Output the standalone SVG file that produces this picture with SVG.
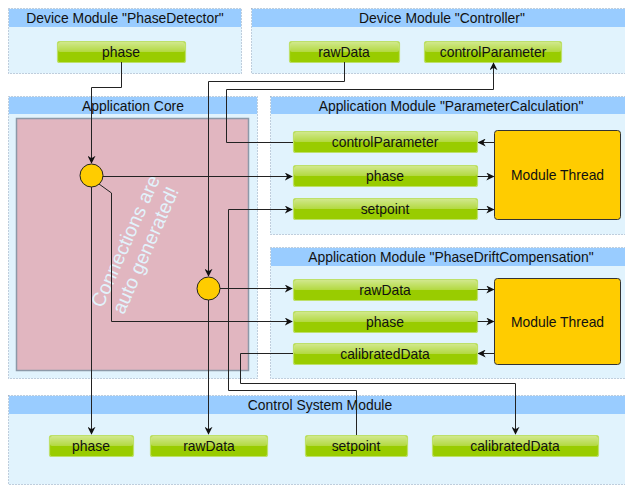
<svg xmlns="http://www.w3.org/2000/svg" width="625" height="487" viewBox="0 0 625 487">
<defs>
<linearGradient id="glass" x1="0" y1="0" x2="0" y2="1">
<stop offset="0" stop-color="#ffffff" stop-opacity="0.55"/>
<stop offset="1" stop-color="#ffffff" stop-opacity="0.25"/>
</linearGradient>
<marker id="arr" viewBox="0 0 10 10" refX="9" refY="5" markerWidth="8" markerHeight="8" markerUnits="userSpaceOnUse" orient="auto">
<path d="M0,0 L10,5 L0,10 L3,5 Z" fill="#111"/>
</marker>
<style>
.mod{fill:#e1f3fd;stroke:#8fa3bd;stroke-width:1;stroke-dasharray:1,2}
.hdr{fill:#99ccff}
.t{font-family:"Liberation Sans",Arial,sans-serif;font-size:13.9px;fill:#111;text-anchor:middle}
.btn{fill:#99cc00;stroke:#bde06a;stroke-width:1.2}
.gl{fill:url(#glass)}
.thr{fill:#ffcc00;stroke:#333;stroke-width:1}
.node{fill:#ffcc00;stroke:#222;stroke-width:1}
.c{fill:none;stroke:#222;stroke-width:1}
.ca{fill:none;stroke:#222;stroke-width:1;marker-end:url(#arr)}
</style>
</defs>

<!-- Device Module PhaseDetector -->
<g id="dm-phasedetector">
<rect class="mod" x="8.5" y="8.5" width="233" height="65"/>
<rect class="hdr" x="9" y="9" width="232" height="18"/>
<text class="t" x="125" y="22.5">Device Module "PhaseDetector"</text>
</g>
<g id="dm-pd-phase">
<rect class="btn" x="57.5" y="41.5" width="128" height="21" rx="2"/>
<rect class="gl" x="58" y="42" width="127" height="10" rx="2"/>
<text class="t" x="121" y="56.8">phase</text>
</g>

<!-- Device Module Controller -->
<g id="dm-controller">
<rect class="mod" x="251.5" y="8.5" width="381" height="65"/>
<rect class="hdr" x="252" y="9" width="380" height="18"/>
<text class="t" x="442" y="22.5">Device Module "Controller"</text>
</g>
<g id="dm-c-rawdata">
<rect class="btn" x="289.5" y="41.5" width="110" height="21" rx="2"/>
<rect class="gl" x="290" y="42" width="109" height="10" rx="2"/>
<text class="t" x="344" y="56.8">rawData</text>
</g>
<g id="dm-c-controlparameter">
<rect class="btn" x="424.5" y="41.5" width="137" height="21" rx="2"/>
<rect class="gl" x="425" y="42" width="136" height="10" rx="2"/>
<text class="t" x="493" y="56.8">controlParameter</text>
</g>

<!-- Application Core -->
<g id="app-core">
<rect class="mod" x="8.5" y="96.5" width="249" height="282"/>
<rect class="hdr" x="9" y="97" width="248" height="17"/>
<text class="t" x="133" y="110.5">Application Core</text>
<rect x="16.5" y="118.5" width="232" height="252" fill="#e1b6c0" stroke="#8d99a8" stroke-width="1.5"/>
<text transform="translate(136,246) rotate(-66)" font-family="'Liberation Sans',Arial,sans-serif" font-size="19.5" fill="#e2f3fc" text-anchor="middle"><tspan x="0" y="-5">Connections are</tspan><tspan x="0" y="17">auto generated!</tspan></text>
</g>

<!-- Application Module ParameterCalculation -->
<g id="am-parametercalculation">
<rect class="mod" x="270.5" y="96.5" width="362" height="138"/>
<rect class="hdr" x="271" y="97" width="361" height="17"/>
<text class="t" x="451" y="110.5">Application Module "ParameterCalculation"</text>
</g>
<g id="pc-controlparameter">
<rect class="btn" x="293.5" y="131.5" width="184" height="21" rx="2"/>
<rect class="gl" x="294" y="132" width="183" height="10" rx="2"/>
<text class="t" x="385" y="146.8">controlParameter</text>
</g>
<g id="pc-phase">
<rect class="btn" x="293.5" y="165.5" width="184" height="21" rx="2"/>
<rect class="gl" x="294" y="166" width="183" height="10" rx="2"/>
<text class="t" x="385" y="180.8">phase</text>
</g>
<g id="pc-setpoint">
<rect class="btn" x="293.5" y="198.5" width="184" height="21" rx="2"/>
<rect class="gl" x="294" y="199" width="183" height="10" rx="2"/>
<text class="t" x="385" y="213.8">setpoint</text>
</g>
<g id="pc-thread">
<rect class="thr" x="494.5" y="130.5" width="126" height="89" rx="3"/>
<text class="t" x="557.5" y="180">Module Thread</text>
</g>

<!-- Application Module PhaseDriftCompensation -->
<g id="am-phasedriftcompensation">
<rect class="mod" x="270.5" y="247.5" width="362" height="131"/>
<rect class="hdr" x="271" y="248" width="361" height="18"/>
<text class="t" x="451" y="262">Application Module "PhaseDriftCompensation"</text>
</g>
<g id="pdc-rawdata">
<rect class="btn" x="293.5" y="279.5" width="184" height="21" rx="2"/>
<rect class="gl" x="294" y="280" width="183" height="10" rx="2"/>
<text class="t" x="385" y="294.8">rawData</text>
</g>
<g id="pdc-phase">
<rect class="btn" x="293.5" y="311.5" width="184" height="21" rx="2"/>
<rect class="gl" x="294" y="312" width="183" height="10" rx="2"/>
<text class="t" x="385" y="326.8">phase</text>
</g>
<g id="pdc-calibrateddata">
<rect class="btn" x="293.5" y="343.5" width="184" height="21" rx="2"/>
<rect class="gl" x="294" y="344" width="183" height="10" rx="2"/>
<text class="t" x="385" y="358.8">calibratedData</text>
</g>
<g id="pdc-thread">
<rect class="thr" x="494.5" y="278.5" width="126" height="86" rx="3"/>
<text class="t" x="557.5" y="326.5">Module Thread</text>
</g>

<!-- Control System Module -->
<g id="control-system">
<rect class="mod" x="8.5" y="395.5" width="624" height="89"/>
<rect class="hdr" x="9" y="396" width="623" height="18"/>
<text class="t" x="320" y="409.5">Control System Module</text>
</g>
<g id="cs-phase">
<rect class="btn" x="49.5" y="435.5" width="84" height="21" rx="2"/>
<rect class="gl" x="50" y="436" width="83" height="10" rx="2"/>
<text class="t" x="91" y="450.8">phase</text>
</g>
<g id="cs-rawdata">
<rect class="btn" x="150.5" y="435.5" width="117" height="21" rx="2"/>
<rect class="gl" x="151" y="436" width="116" height="10" rx="2"/>
<text class="t" x="209" y="450.8">rawData</text>
</g>
<g id="cs-setpoint">
<rect class="btn" x="305.5" y="435.5" width="102" height="21" rx="2"/>
<rect class="gl" x="306" y="436" width="101" height="10" rx="2"/>
<text class="t" x="356" y="450.8">setpoint</text>
</g>
<g id="cs-calibrateddata">
<rect class="btn" x="432.5" y="435.5" width="166" height="21" rx="2"/>
<rect class="gl" x="433" y="436" width="165" height="10" rx="2"/>
<text class="t" x="515" y="450.8">calibratedData</text>
</g>

<!-- connectors -->
<g id="connectors">
<path class="ca" d="M121.5,62 V87.5 H91.5 V163"/>
<path class="ca" d="M344.5,62 V81.5 H208.5 V276"/>
<path class="ca" d="M293,142.5 H226.5 V89.5 H493.5 V63"/>
<path class="ca" d="M102.5,176.5 H292"/>
<path class="ca" d="M99,184 L111.5,193 V321.5 H292"/>
<path class="ca" d="M91.5,187 V434"/>
<path class="ca" d="M220,288.5 H292"/>
<path class="ca" d="M208.5,300 V434"/>
<path class="ca" d="M356.5,435 V390.5 H228.5 V209.5 H292"/>
<path class="ca" d="M293,353.5 H240.5 V383.5 H515.5 V434"/>
<path class="ca" d="M494,142.5 H478.5"/>
<path class="ca" d="M477.5,176.5 H493.5"/>
<path class="ca" d="M477.5,209.5 H493.5"/>
<path class="ca" d="M477.5,289.5 H493.5"/>
<path class="ca" d="M477.5,321.5 H493.5"/>
<path class="ca" d="M494,353.5 H478.5"/>
</g>

<g id="node-1"><circle class="node" cx="91.5" cy="175.5" r="11.5"/></g>
<g id="node-2"><circle class="node" cx="208.5" cy="288.5" r="11.5"/></g>
</svg>
